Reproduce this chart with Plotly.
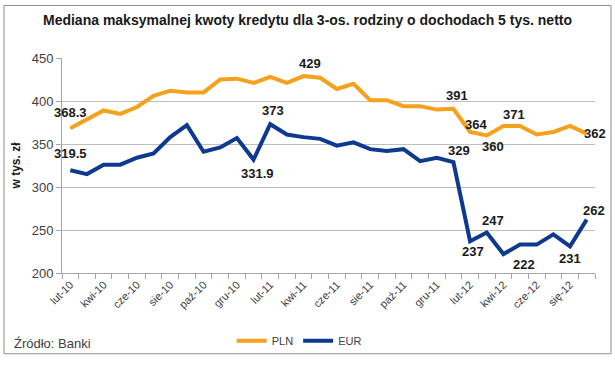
import plotly.graph_objects as go

months = ["lut-10","mar-10","kwi-10","maj-10","cze-10","lip-10","sie-10","wrz-10","paź-10","lis-10","gru-10","sty-11",
          "lut-11","mar-11","kwi-11","maj-11","cze-11","lip-11","sie-11","wrz-11","paź-11","lis-11","gru-11","sty-12",
          "lut-12","mar-12","kwi-12","maj-12","cze-12","lip-12","sie-12","wrz-12"]
tick_labels = ["lut-10","kwi-10","cze-10","sie-10","paź-10","gru-10","lut-11","kwi-11","cze-11","sie-11","paź-11","gru-11",
               "lut-12","kwi-12","cze-12","się-12"]

pln = [368.3, 378, 389, 385, 393, 406, 412, 410, 410, 425, 426, 421,
       428, 421, 429, 427, 414, 420, 401, 401, 394, 394, 390, 391,
       364, 360, 371, 371, 361, 364, 371, 362]
eur = [319.5, 315, 326, 326, 334, 339, 358, 372, 341, 346, 357, 331.9,
       373, 361, 358, 356, 348, 352, 344, 342, 344, 330, 334, 329,
       237, 247, 222, 233, 233, 245, 231, 262]

# labelled points: (index, xshift, yshift)
pln_labels = [(0, 0, 16), (14, 6, 13), (23, 4, 13), (24, 6, 7), (25, 6, -11), (26, 11, 11), (31, 8, 0)]
eur_labels = [(0, 0, 17), (11, 4, -14), (12, 3, 14), (23, 6, 12), (24, 3, -10), (25, 6, 12), (26, 21, -10), (30, 0, -12), (31, 7, 9)]

x = list(range(len(months)))
font_family = "Liberation Sans"
txt_col = "#404040"

fig = go.Figure()
fig.add_trace(go.Scatter(x=x, y=pln, mode="lines", name="PLN",
                         line=dict(color="#F4A11D", width=4), text=months, hoverinfo="text+y"))
fig.add_trace(go.Scatter(x=x, y=eur, mode="lines", name="EUR",
                         line=dict(color="#0D3A8E", width=4), text=months, hoverinfo="text+y"))

annotations = []
for series, specs in ((pln, pln_labels), (eur, eur_labels)):
    for i, xs, ys in specs:
        annotations.append(dict(x=i, y=series[i], xref="x", yref="y", text=f"{series[i]:g}",
                                showarrow=False, xshift=xs, yshift=ys,
                                font=dict(family=font_family, size=13, color="#1a1a1a", weight="bold")))

annotations.append(dict(x=-0.094, y=-0.33, xref="paper", yref="paper", xanchor="left", yanchor="middle",
                        text="Źródło: Banki", showarrow=False,
                        font=dict(family=font_family, size=13, color=txt_col)))

fig.update_layout(
    width=615, height=367,
    margin=dict(l=62, r=20, t=58, b=88),
    paper_bgcolor="white", plot_bgcolor="white",
    title=dict(text="<b>Mediana maksymalnej kwoty kredytu dla 3-os. rodziny o dochodach 5 tys. netto</b>",
               x=0.5, xanchor="center", y=0.945, yanchor="middle",
               font=dict(family=font_family, size=14, color="#1a1a1a")),
    showlegend=True,
    legend=dict(orientation="h", x=0.445, xanchor="center", y=-0.315, yanchor="middle",
                font=dict(family=font_family, size=11, color=txt_col), itemwidth=30,
                bgcolor="rgba(0,0,0,0)"),
    annotations=annotations,
    shapes=[dict(type="rect", xref="paper", yref="paper",
                 x0=(4 - 62) / 533, x1=(611 - 62) / 533, y0=(279 - 362) / 221, y1=(279 - 4) / 221,
                 line=dict(color="#8c8c8c", width=1), fillcolor="rgba(0,0,0,0)", layer="below")],
)

fig.update_xaxes(
    range=[-0.5, len(months) - 0.5],
    tickmode="array", tickvals=x[::2], ticktext=tick_labels, tickangle=-45,
    ticks="", showgrid=False, zeroline=False,
    showline=True, linecolor="#A6A6A6", linewidth=1,
    tickfont=dict(family=font_family, size=11, color=txt_col),
    minor=dict(tickvals=[v - 0.5 for v in range(len(months) + 1)], ticks="outside", ticklen=5,
               tickcolor="#A6A6A6", showgrid=False),
)
fig.update_yaxes(
    range=[200, 450], dtick=50, tick0=200,
    showgrid=True, gridcolor="#BFBFBF", gridwidth=1, zeroline=False,
    showline=True, linecolor="#A6A6A6", linewidth=1,
    ticks="outside", ticklen=5, tickcolor="#A6A6A6",
    tickfont=dict(family=font_family, size=13, color=txt_col),
    title=dict(text="<b>w tys. zł</b>", standoff=8,
               font=dict(family=font_family, size=12, color="#1a1a1a")),
)

fig.write_html("out.html", config={"displayModeBar": False},
               post_script="document.body.style.margin='0';document.body.style.overflow='hidden';")
